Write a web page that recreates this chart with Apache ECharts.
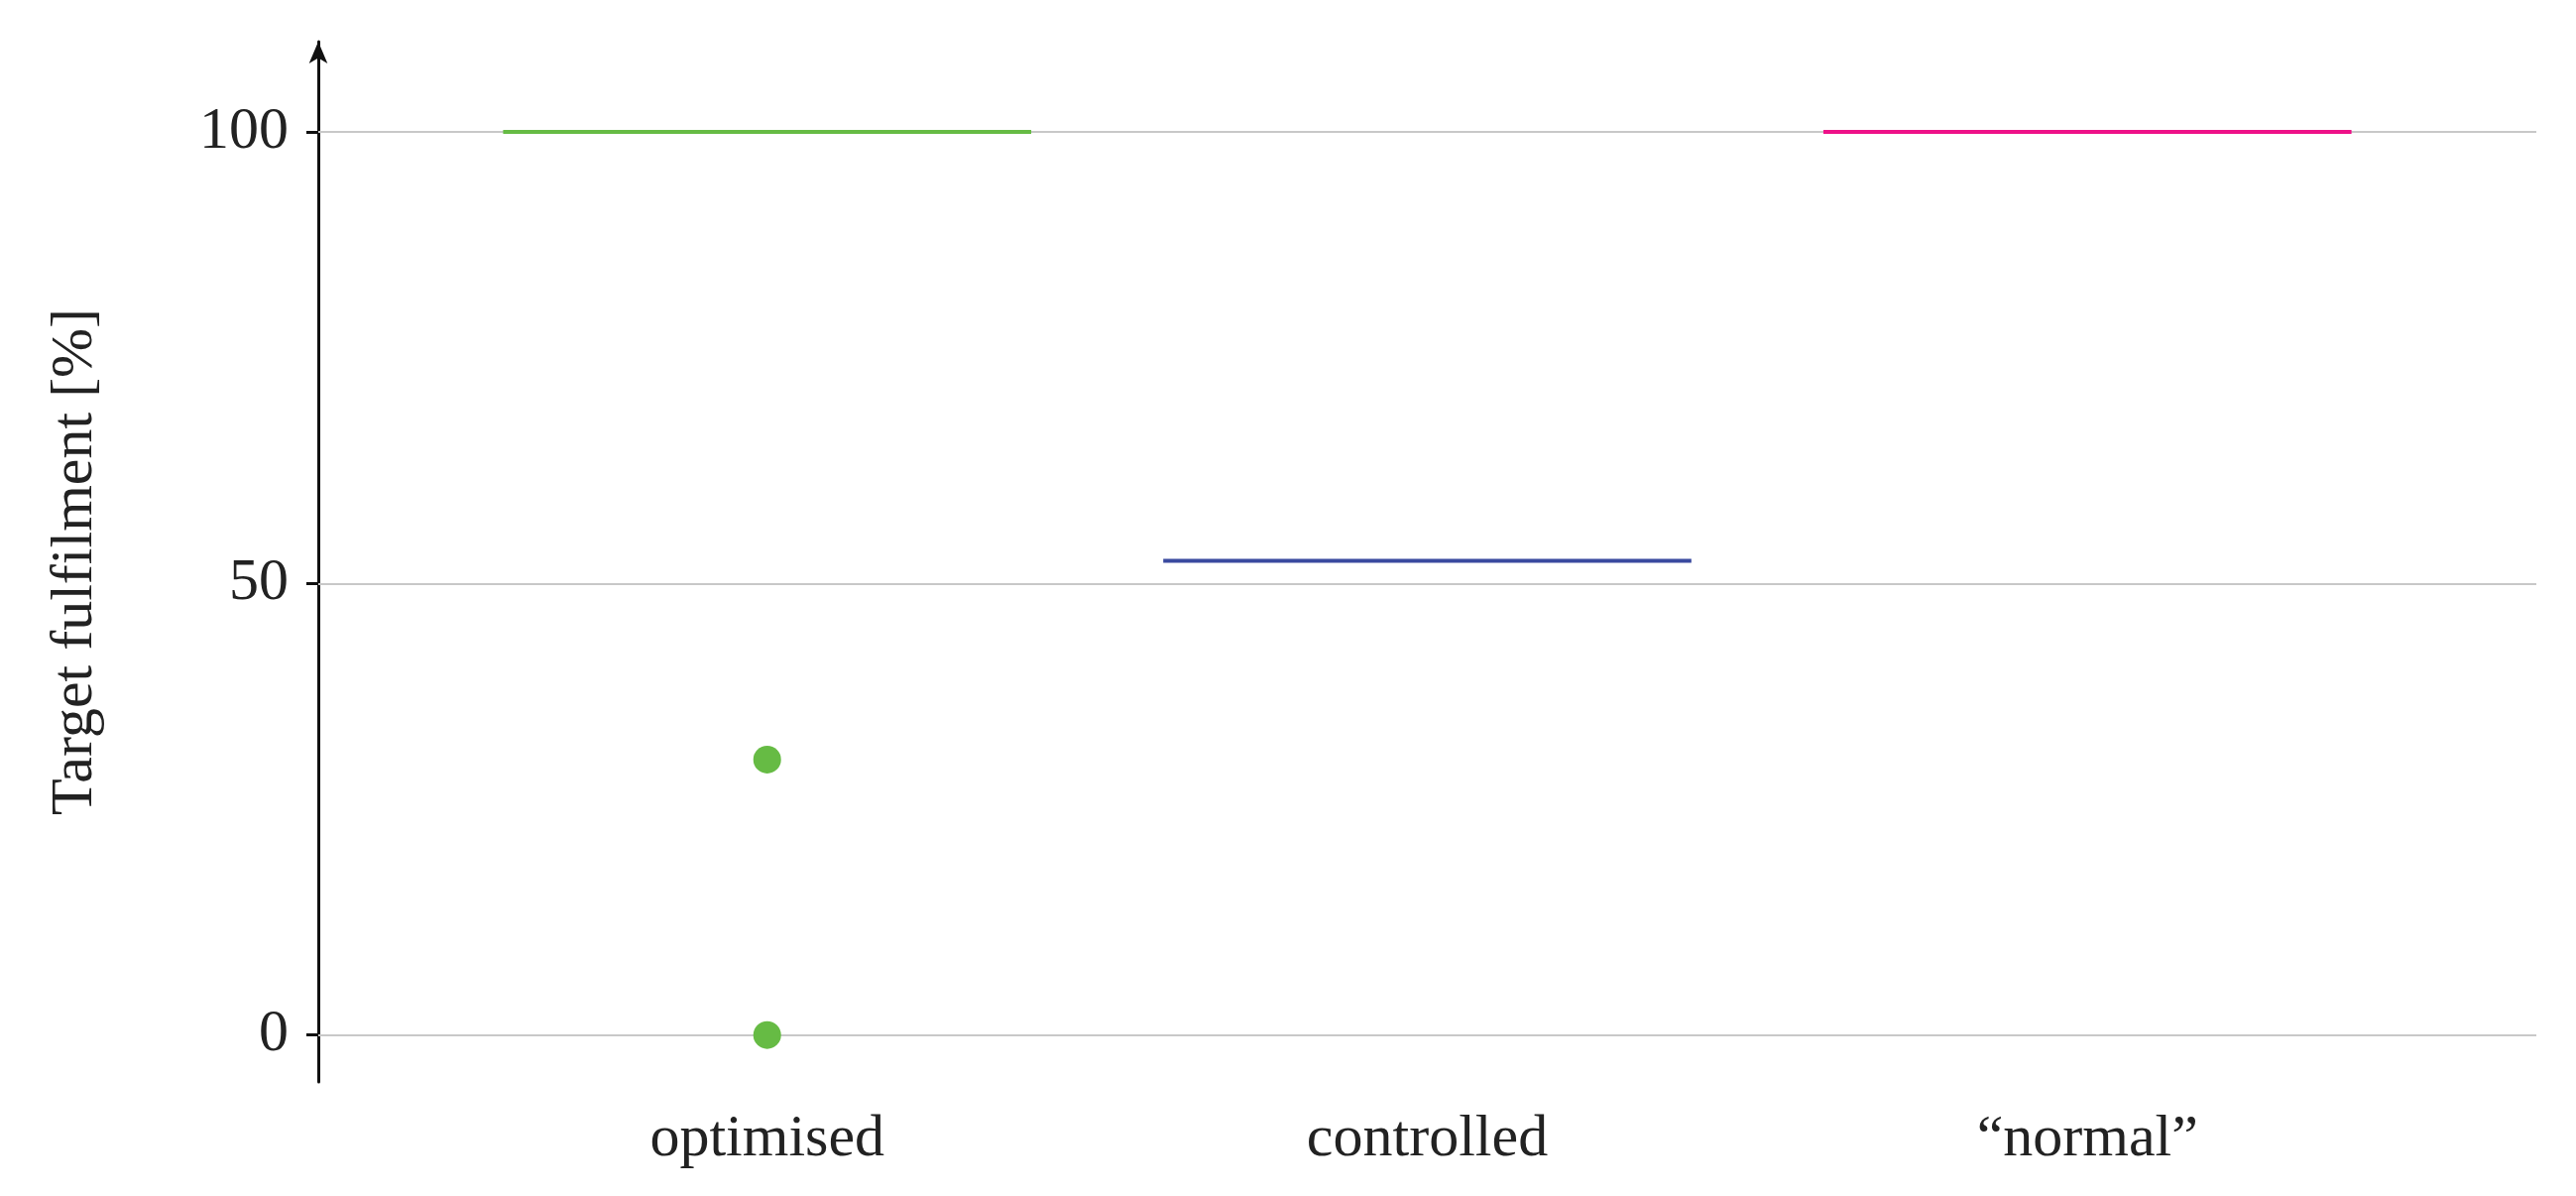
<!DOCTYPE html>
<html><head><meta charset="utf-8">
<script src="https://cdn.jsdelivr.net/npm/echarts@6/dist/echarts.min.js"></script>
<style>html,body{margin:0;padding:0;background:#fff}#c{width:2598px;height:1206px}</style>
</head><body><div id="c"></div>
<script>
const categories = ['optimised', 'controlled', '“normal”'];
const medians = [100, 52.5, 100];
const colors = ['#66bb44', '#3a4a9f', '#ee1188'];
const outliers = [[1, 30.5], [1, 0]];
const yTicks = [0, 50, 100];
const font = 'Liberation Serif';
const series = categories.map((c, i) => ({
  type: 'line', data: [[i + 1 - 0.4, medians[i]], [i + 1 + 0.4, medians[i]]],
  symbol: 'none', lineStyle: { color: colors[i], width: 4 }, z: 5
}));
series.push({
  type: 'scatter', data: outliers, symbolSize: 28, itemStyle: { color: colors[0], opacity: 1 }, z: 6,
  markLine: { silent: true, symbol: 'none', label: { show: false },
    lineStyle: { color: '#c8c8c8', width: 2, type: 'solid' },
    data: yTicks.map(v => ({ yAxis: v })), z: 1 }
});
const chart = echarts.init(document.getElementById('c'));
chart.setOption({
  animation: false,
  grid: { left: 321, right: 40, top: 42, bottom: 115 },
  xAxis: { type: 'value', min: 0.32, max: 3.68,
    axisLine: { show: false }, axisTick: { show: false }, splitLine: { show: false },
    axisLabel: { customValues: [1, 2, 3], formatter: v => categories[Math.round(v) - 1],
      fontFamily: font, fontSize: 60, color: '#222', margin: 28 } },
  yAxis: { type: 'value', min: -5.2, max: 110,
    name: 'Target fulfilment [%]', nameLocation: 'middle', nameGap: 215,
    nameTextStyle: { fontFamily: font, fontSize: 60, color: '#222' },
    axisLine: { show: true, symbol: ['none', 'arrow'], symbolSize: [14, 22], lineStyle: { color: '#111', width: 3 } },
    axisTick: { show: true, customValues: yTicks, length: 12, lineStyle: { color: '#111', width: 3 } },
    splitLine: { show: false },
    axisLabel: { customValues: yTicks, fontFamily: font, fontSize: 60, color: '#222', margin: 30 } },
  series
});
</script></body></html>
